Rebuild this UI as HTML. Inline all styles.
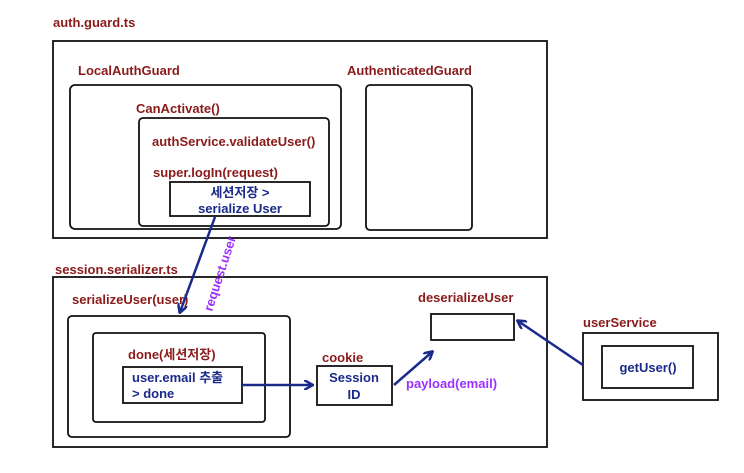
<!DOCTYPE html><html><head><style>body{margin:0;background:#fff}</style></head><body>
<svg width="744" height="468" xmlns="http://www.w3.org/2000/svg" font-family="Liberation Sans, Noto Sans CJK KR, sans-serif" font-weight="bold" font-size="13">
<defs><marker id="a" markerWidth="10" markerHeight="10" refX="8" refY="5" orient="auto" markerUnits="userSpaceOnUse"><path d="M0,0 L9,5 L0,10" fill="none" stroke="#1a2a8a" stroke-width="2.5"/></marker></defs>
<g fill="#fff" stroke="#111" stroke-width="1.8">
<rect x="53" y="41" width="494" height="197"/>
<rect x="70" y="85" width="271" height="144" rx="5"/>
<rect x="139" y="118" width="190" height="108" rx="4"/>
<rect x="170" y="182" width="140" height="34"/>
<rect x="366" y="85" width="106" height="145" rx="4"/>
<rect x="53" y="277" width="494" height="170"/>
<rect x="68" y="316" width="222" height="121" rx="4"/>
<rect x="93" y="333" width="172" height="89" rx="3"/>
<rect x="123" y="367" width="119" height="36"/>
<rect x="317" y="366" width="75" height="39"/>
<rect x="431" y="314" width="83" height="26"/>
<rect x="583" y="333" width="135" height="67"/>
<rect x="602" y="346" width="91" height="42"/>
</g>
<g fill="#8b1a1a">
<text x="53" y="27">auth.guard.ts</text>
<text x="78" y="75">LocalAuthGuard</text>
<text x="136" y="113">CanActivate()</text>
<text x="152" y="146">authService.validateUser()</text>
<text x="153" y="177">super.logIn(request)</text>
<text x="347" y="75">AuthenticatedGuard</text>
<text x="55" y="274">session.serializer.ts</text>
<text x="72" y="304">serializeUser(user)</text>
<text x="128" y="359">done(세션저장)</text>
<text x="322" y="362">cookie</text>
<text x="418" y="302">deserializeUser</text>
<text x="583" y="327">userService</text>
</g>
<g fill="#1a2a8a" text-anchor="middle">
<text x="240" y="197">세션저장 &gt;</text>
<text x="240" y="213">serialize User</text>
<text x="354" y="382">Session</text>
<text x="354" y="399">ID</text>
<text x="648" y="372">getUser()</text>
</g>
<g fill="#1a2a8a"><text x="132" y="382">user.email 추출</text><text x="132" y="398">&gt; done</text></g>
<text x="406" y="388" fill="#9b30ff">payload(email)</text>
<text transform="translate(212,312) rotate(-72)" fill="#9b30ff">request.user</text>
<g stroke="#1a2a8a" stroke-width="2.5" fill="none" marker-end="url(#a)">
<line x1="215" y1="217" x2="180" y2="312"/>
<line x1="242" y1="385" x2="312" y2="385"/>
<line x1="394" y1="385" x2="432" y2="352"/>
<line x1="583" y1="365" x2="518" y2="321"/>
</g>
</svg></body></html>
